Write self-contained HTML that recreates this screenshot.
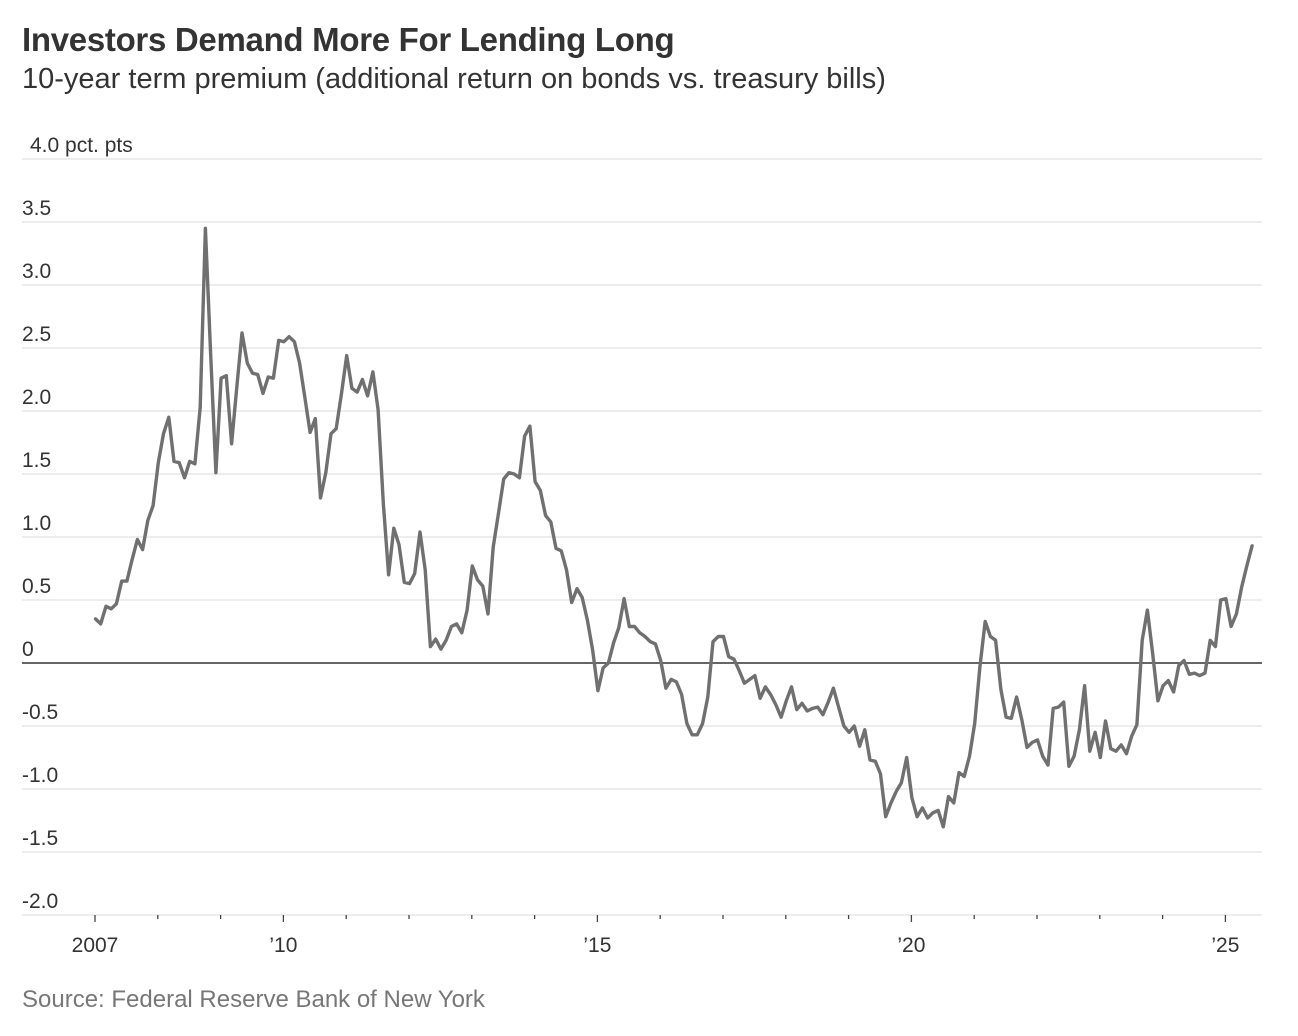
<!DOCTYPE html>
<html><head><meta charset="utf-8">
<style>
html,body{margin:0;padding:0;background:#fff;}
body{width:1298px;height:1036px;overflow:hidden;font-family:"Liberation Sans",sans-serif;position:relative;}
#title{position:absolute;left:22px;top:21px;font-size:33px;font-weight:bold;color:#333;letter-spacing:-0.3px;}
#subtitle{position:absolute;left:22px;top:63px;font-size:29px;color:#333;}
#source{position:absolute;left:22px;top:986px;font-size:24px;color:#777;}
svg{position:absolute;left:0;top:0;}
</style></head>
<body>
<div id="title">Investors Demand More For Lending Long</div>
<div id="subtitle">10-year term premium (additional return on bonds vs. treasury bills)</div>
<svg id="chart" width="1298" height="1036"></svg>
<div id="source">Source: Federal Reserve Bank of New York</div>
<script>
const startYear = 2007;
const termPremium = [0.35,0.31,0.45,0.43,0.47,0.65,0.65,0.82,0.98,0.90,
1.13,1.25,1.59,1.82,1.95,1.60,1.59,1.47,1.60,1.58,
2.03,3.45,2.46,1.51,2.26,2.28,1.74,2.19,2.62,2.38,
2.30,2.29,2.14,2.27,2.26,2.56,2.55,2.59,2.55,2.38,
2.11,1.83,1.94,1.31,1.51,1.82,1.86,2.14,2.44,2.18,
2.15,2.25,2.12,2.31,2.01,1.27,0.70,1.07,0.94,0.64,
0.63,0.71,1.04,0.74,0.13,0.19,0.11,0.18,0.29,0.31,
0.24,0.42,0.77,0.66,0.61,0.39,0.92,1.19,1.46,1.51,
1.50,1.47,1.80,1.88,1.44,1.37,1.17,1.12,0.91,0.89,
0.74,0.48,0.59,0.52,0.34,0.10,-0.22,-0.04,0.00,0.16,
0.28,0.51,0.29,0.29,0.24,0.21,0.17,0.15,0.02,-0.20,
-0.13,-0.15,-0.25,-0.48,-0.57,-0.57,-0.48,-0.27,0.17,0.21,
0.21,0.05,0.03,-0.06,-0.16,-0.13,-0.10,-0.28,-0.19,-0.25,
-0.33,-0.43,-0.30,-0.19,-0.37,-0.32,-0.38,-0.36,-0.35,-0.41,
-0.31,-0.20,-0.35,-0.50,-0.55,-0.50,-0.66,-0.53,-0.77,-0.78,
-0.88,-1.22,-1.11,-1.02,-0.95,-0.75,-1.07,-1.22,-1.15,-1.23,
-1.19,-1.17,-1.30,-1.06,-1.11,-0.87,-0.90,-0.74,-0.48,-0.03,
0.33,0.21,0.18,-0.21,-0.43,-0.44,-0.27,-0.45,-0.67,-0.63,
-0.61,-0.74,-0.81,-0.36,-0.35,-0.31,-0.82,-0.74,-0.53,-0.18,
-0.70,-0.55,-0.75,-0.46,-0.68,-0.70,-0.65,-0.72,-0.58,-0.49,
0.18,0.42,0.08,-0.30,-0.18,-0.14,-0.23,-0.02,0.02,-0.09,
-0.08,-0.10,-0.08,0.18,0.13,0.50,0.51,0.29,0.39,0.60,
0.77,0.93];
const yTicks = [4.0,3.5,3.0,2.5,2.0,1.5,1.0,0.5,0,-0.5,-1.0,-1.5,-2.0];
const yTickLabels = ["4.0 pct. pts","3.5","3.0","2.5","2.0","1.5","1.0","0.5","0","-0.5","-1.0","-1.5","-2.0"];
const xTickYears = [2007,2008,2009,2010,2011,2012,2013,2014,2015,2016,2017,2018,2019,2020,2021,2022,2023,2024,2025];
const xLabelYears = [2007,2010,2015,2020,2025];
const xLabels = ["2007","\u201910","\u201915","\u201920","\u201925"];

const NS = "http://www.w3.org/2000/svg";
const svg = document.getElementById('chart');
const yScale = v => 663 - v * 126;
const xScale = yr => 95.5 + (yr - 2007) * 62.8;
function mk(tag, attrs, parent){
  const e = document.createElementNS(NS, tag);
  for (const k in attrs) e.setAttribute(k, attrs[k]);
  (parent || svg).appendChild(e);
  return e;
}
yTicks.forEach((t, i) => {
  const y = yScale(t);
  const g = mk('line', {x1:22, x2:1262, y1:y, y2:y, stroke: t===0 ? '#333' : '#e2e2e2', 'stroke-width': t===0 ? 1.6 : 1.3});
  
  
  const tx = mk('text', {x: t===4 ? 30 : 22, y: y - 7, 'font-size': 21, fill: '#333', 'font-family': '"Liberation Sans", sans-serif'});
  tx.textContent = yTickLabels[i];
  
  
});
xTickYears.forEach(yr => {
  const x = xScale(yr) - 0.5;
  const major = xLabelYears.indexOf(yr) >= 0;
  const tk = mk('line', {x1:x, x2:x, y1:915, y2: major ? 922 : 919, stroke:'#444', 'stroke-width':1.3});
  
  
});
xLabelYears.forEach((yr, i) => {
  const tx = mk('text', {x: xScale(yr) - 0.5, y: 952, 'font-size': 21, fill: '#333', 'text-anchor':'middle', 'font-family': '"Liberation Sans", sans-serif'});
  tx.textContent = xLabels[i];
  
  
});
const d = termPremium.map((v, i) => (i ? 'L' : 'M') + xScale(startYear + i/12).toFixed(1) + ',' + yScale(v).toFixed(1)).join('');
const path = mk('path', {d: d, fill:'none', stroke:'#707070', 'stroke-width':3.4, 'stroke-linejoin':'round', 'stroke-linecap':'round'});


</script>
</body></html>
